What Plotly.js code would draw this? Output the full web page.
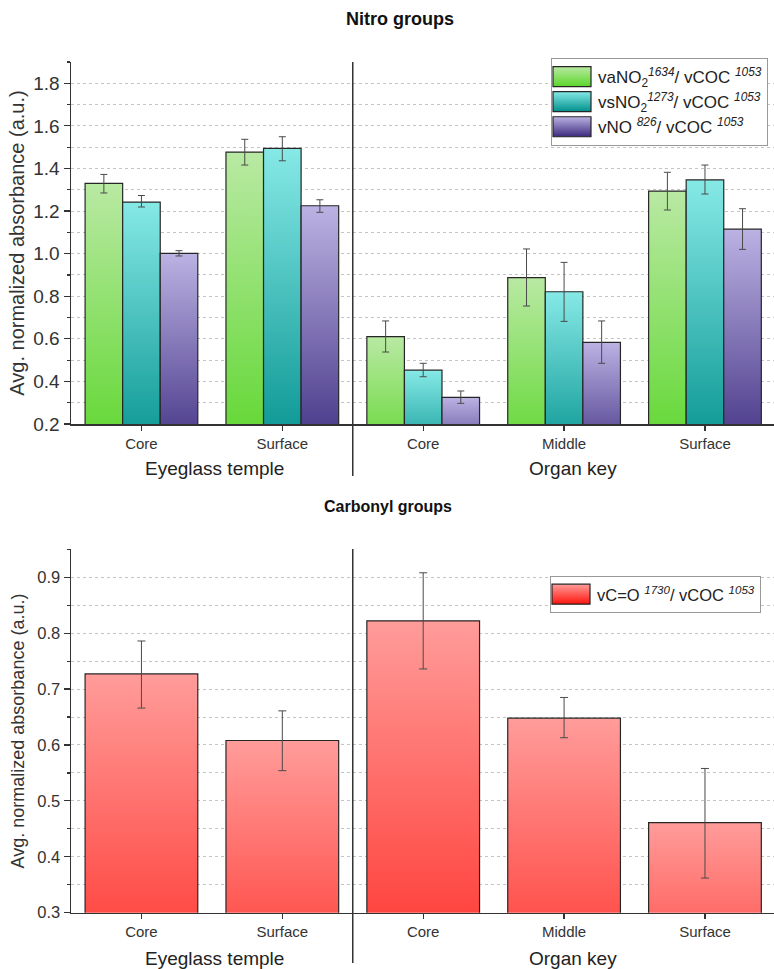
<!DOCTYPE html>
<html>
<head>
<meta charset="utf-8">
<script src="https://cdn.plot.ly/plotly-3.0.1.min.js"></script>
<style>
  html, body { margin: 0; padding: 0; background: #fff; }
  #chart { width: 774px; height: 969px; }
</style>
</head>
<body>
<div id="chart"></div>
<svg width="0" height="0" style="position:absolute">
  <defs>
    <linearGradient id="grad0" x1="0" y1="0" x2="0" y2="1">
      <stop offset="0" stop-color="#b9e9a3"/><stop offset="1" stop-color="#5bd62a"/>
    </linearGradient>
    <linearGradient id="grad1" x1="0" y1="0" x2="0" y2="1">
      <stop offset="0" stop-color="#86e9e6"/><stop offset="1" stop-color="#008f8c"/>
    </linearGradient>
    <linearGradient id="grad2" x1="0" y1="0" x2="0" y2="1">
      <stop offset="0" stop-color="#bcb2e3"/><stop offset="1" stop-color="#3b2a7e"/>
    </linearGradient>
    <linearGradient id="grad3" x1="0" y1="0" x2="0" y2="1">
      <stop offset="0" stop-color="#ff9c9a"/><stop offset="1" stop-color="#ff140c"/>
    </linearGradient>
  </defs>
</svg>
<script>
// ---------- data ----------
const groups = ["Eyeglass temple", "Eyeglass temple", "Organ key", "Organ key", "Organ key"];
const locations = ["Core", "Surface", "Core", "Middle", "Surface"];

const nitroNames = [
  "vaNO<sub>2</sub><sup><i>1634</i></sup>/ vCOC <sup><i>1053</i></sup>",
  "vsNO<sub>2</sub><sup><i>1273</i></sup>/ vCOC <sup><i>1053</i></sup>",
  "vNO <sup><i>826</i></sup>/ vCOC <sup><i>1053</i></sup>"
];
const carbonylName = "vC=O <sup><i>1730</i></sup>/ vCOC <sup><i>1053</i></sup>";

const vaNO2 = [1.330, 1.477, 0.610, 0.887, 1.294];
const vaNO2_hi = [1.372, 1.537, 0.684, 1.022, 1.382];
const vaNO2_lo = [1.285, 1.416, 0.538, 0.754, 1.205];

const vsNO2 = [1.242, 1.494, 0.453, 0.821, 1.346];
const vsNO2_hi = [1.273, 1.549, 0.485, 0.959, 1.416];
const vsNO2_lo = [1.219, 1.436, 0.422, 0.682, 1.280];

const vNO = [1.001, 1.225, 0.325, 0.583, 1.115];
const vNO_hi = [1.014, 1.253, 0.355, 0.684, 1.211];
const vNO_lo = [0.989, 1.194, 0.297, 0.485, 1.020];

const vCO = [0.727, 0.608, 0.822, 0.648, 0.461];
const vCO_hi = [0.786, 0.661, 0.908, 0.685, 0.558];
const vCO_lo = [0.666, 0.554, 0.736, 0.613, 0.362];

const solidColors = ["#8fe067", "#3cc0bd", "#7a6cb2", "#ff5c55"];

// ---------- build ----------
const xpos = locations.map((_, i) => i);
const uniqueGroups = [...new Set(groups)];
const groupCenters = uniqueGroups.map(g => {
  const idx = xpos.filter(i => groups[i] === g);
  return (idx[0] + idx[idx.length - 1]) / 2;
});
const groupBoundaries = [];
for (let i = 1; i < groups.length; i++) if (groups[i] !== groups[i - 1]) groupBoundaries.push(i - 0.5);

const FONT = "Liberation Sans, Arial, sans-serif";

function barTrace(y, hi, lo, name, ci, xa, ya, legend, capw) {
  return {
    type: "bar", x: xpos, y: y, name: name,
    xaxis: xa, yaxis: ya, legend: legend,
    marker: { color: solidColors[ci], line: { color: "#262626", width: 1.2 } },
    error_y: {
      type: "data", symmetric: false,
      array: y.map((v, i) => hi[i] - v),
      arrayminus: y.map((v, i) => v - lo[i]),
      color: "#4a4a4a", thickness: 1, width: capw
    },
    hoverinfo: "skip"
  };
}

const data = [
  barTrace(vaNO2, vaNO2_hi, vaNO2_lo, nitroNames[0], 0, "x", "y", "legend", 3.5),
  barTrace(vsNO2, vsNO2_hi, vsNO2_lo, nitroNames[1], 1, "x", "y", "legend", 3.5),
  barTrace(vNO, vNO_hi, vNO_lo, nitroNames[2], 2, "x", "y", "legend", 3.5),
  barTrace(vCO, vCO_hi, vCO_lo, carbonylName, 3, "x2", "y2", "legend2", 4)
];

const H = 969, W = 774;
const py = px => 1 - px / H;

const xCommon = {
  tickvals: xpos, ticktext: locations,
  range: [-0.5, 4.49],
  showline: true, linecolor: "#333", linewidth: 1.5,
  ticks: "outside", ticklen: 5, tickwidth: 1.2, tickcolor: "#333",
  tickfont: { family: FONT, size: 15, color: "#333" },
  showgrid: false, zeroline: false, fixedrange: true,
  domain: [71 / W, 1]
};
const yCommon = {
  showline: true, linecolor: "#333", linewidth: 1.5,
  ticks: "outside", ticklen: 6, tickwidth: 1.2, tickcolor: "#333",
  showgrid: true, gridcolor: "#c4c4c4", griddash: "dot", gridwidth: 1,
  zeroline: false, tickformat: ".1f", fixedrange: true
};
const yTitle = "Avg. normalized absorbance (a.u.)";

const shapes = [];
groupBoundaries.forEach(b => {
  shapes.push({ type: "line", xref: "x", yref: "paper", x0: b, x1: b, y0: py(476), y1: py(62), line: { color: "#333", width: 1.5 } });
  shapes.push({ type: "line", xref: "x2", yref: "paper", x0: b, x1: b, y0: py(963), y1: py(549), line: { color: "#333", width: 1.5 } });
});

const annotations = [
  { text: "<b>Nitro groups</b>", xref: "paper", yref: "paper", x: 400 / W, y: py(19), showarrow: false, xanchor: "center", yanchor: "middle", font: { family: FONT, size: 18, color: "#111" } },
  { text: "<b>Carbonyl groups</b>", xref: "paper", yref: "paper", x: 388 / W, y: py(506), showarrow: false, xanchor: "center", yanchor: "middle", font: { family: FONT, size: 16, color: "#111" } }
];
uniqueGroups.forEach((g, k) => {
  annotations.push({ text: g, xref: "x", yref: "paper", x: groupCenters[k] + (k === 1 ? 0.06 : 0.02), y: py(468), showarrow: false, xanchor: "center", yanchor: "middle", font: { family: FONT, size: 19, color: "#222" } });
  annotations.push({ text: g, xref: "x2", yref: "paper", x: groupCenters[k] + (k === 1 ? 0.06 : 0.02), y: py(958), showarrow: false, xanchor: "center", yanchor: "middle", font: { family: FONT, size: 19, color: "#222" } });
});

const layout = {
  width: W, height: H,
  margin: { l: 0, r: 0, t: 0, b: 0 },
  paper_bgcolor: "#fff", plot_bgcolor: "#fff",
  barmode: "group", bargap: 0.2, bargroupgap: 0,
  showlegend: true,
  xaxis: Object.assign({}, xCommon, { anchor: "y" }),
  xaxis2: Object.assign({}, xCommon, { anchor: "y2" }),
  yaxis: Object.assign({}, yCommon, {
    anchor: "x", domain: [py(424), py(62)], range: [0.2, 1.9], dtick: 0.2, tick0: 0.2,
    tickfont: { family: FONT, size: 19, color: "#333" },
    title: { text: yTitle, font: { family: FONT, size: 20, color: "#333" }, standoff: 3 },
    minor: { dtick: 0.1, ticks: "outside", ticklen: 3, tickcolor: "#333", showgrid: true, gridcolor: "#c4c4c4", griddash: "dot", gridwidth: 1 }
  }),
  yaxis2: Object.assign({}, yCommon, {
    anchor: "x2", domain: [py(912.7), py(549.3)], range: [0.3, 0.95], dtick: 0.1, tick0: 0.3,
    tickfont: { family: FONT, size: 16.5, color: "#333" },
    title: { text: yTitle, font: { family: FONT, size: 18, color: "#333" }, standoff: 8 },
    minor: { dtick: 0.05, ticks: "outside", ticklen: 3, tickcolor: "#333", showgrid: true, gridcolor: "#c4c4c4", griddash: "dot", gridwidth: 1 }
  }),
  legend: {
    x: 768 / W, y: py(58), xanchor: "right", yanchor: "top",
    bgcolor: "#fff", bordercolor: "#999", borderwidth: 1,
    font: { family: FONT, size: 17, color: "#222" },
    itemwidth: 36, tracegroupgap: 0, traceorder: "normal"
  },
  legend2: {
    x: 761 / W, y: py(576), xanchor: "right", yanchor: "top",
    bgcolor: "#fff", bordercolor: "#999", borderwidth: 1,
    font: { family: FONT, size: 16.5, color: "#222" },
    itemwidth: 36
  },
  shapes: shapes,
  annotations: annotations
};

function applyGradients(gd) {
  gd.querySelectorAll(".barlayer .trace").forEach(tr => {
    const d = tr.__data__;
    const idx = d && d[0] && d[0].trace ? d[0].trace.index : null;
    if (idx === null) return;
    tr.querySelectorAll(".point path").forEach(p => { p.style.fill = "url(#grad" + idx + ")"; });
  });
  gd.querySelectorAll("g.legend .traces, g.legend2 .traces, .infolayer .traces").forEach(tr => {
    const d = tr.__data__;
    let t = null;
    if (d && d[0] && d[0][0] && d[0][0].trace) t = d[0][0].trace;
    else if (d && d[0] && d[0].trace) t = d[0].trace;
    if (!t) return;
    tr.querySelectorAll(".legendpoints path").forEach(p => {
      p.setAttribute("d", "M16,10H-22V-10H16Z");
      p.style.fill = "url(#grad" + t.index + ")";
    });
  });
}

Plotly.newPlot("chart", data, layout, { staticPlot: true, displayModeBar: false }).then(gd => applyGradients(gd));
</script>
</body>
</html>
